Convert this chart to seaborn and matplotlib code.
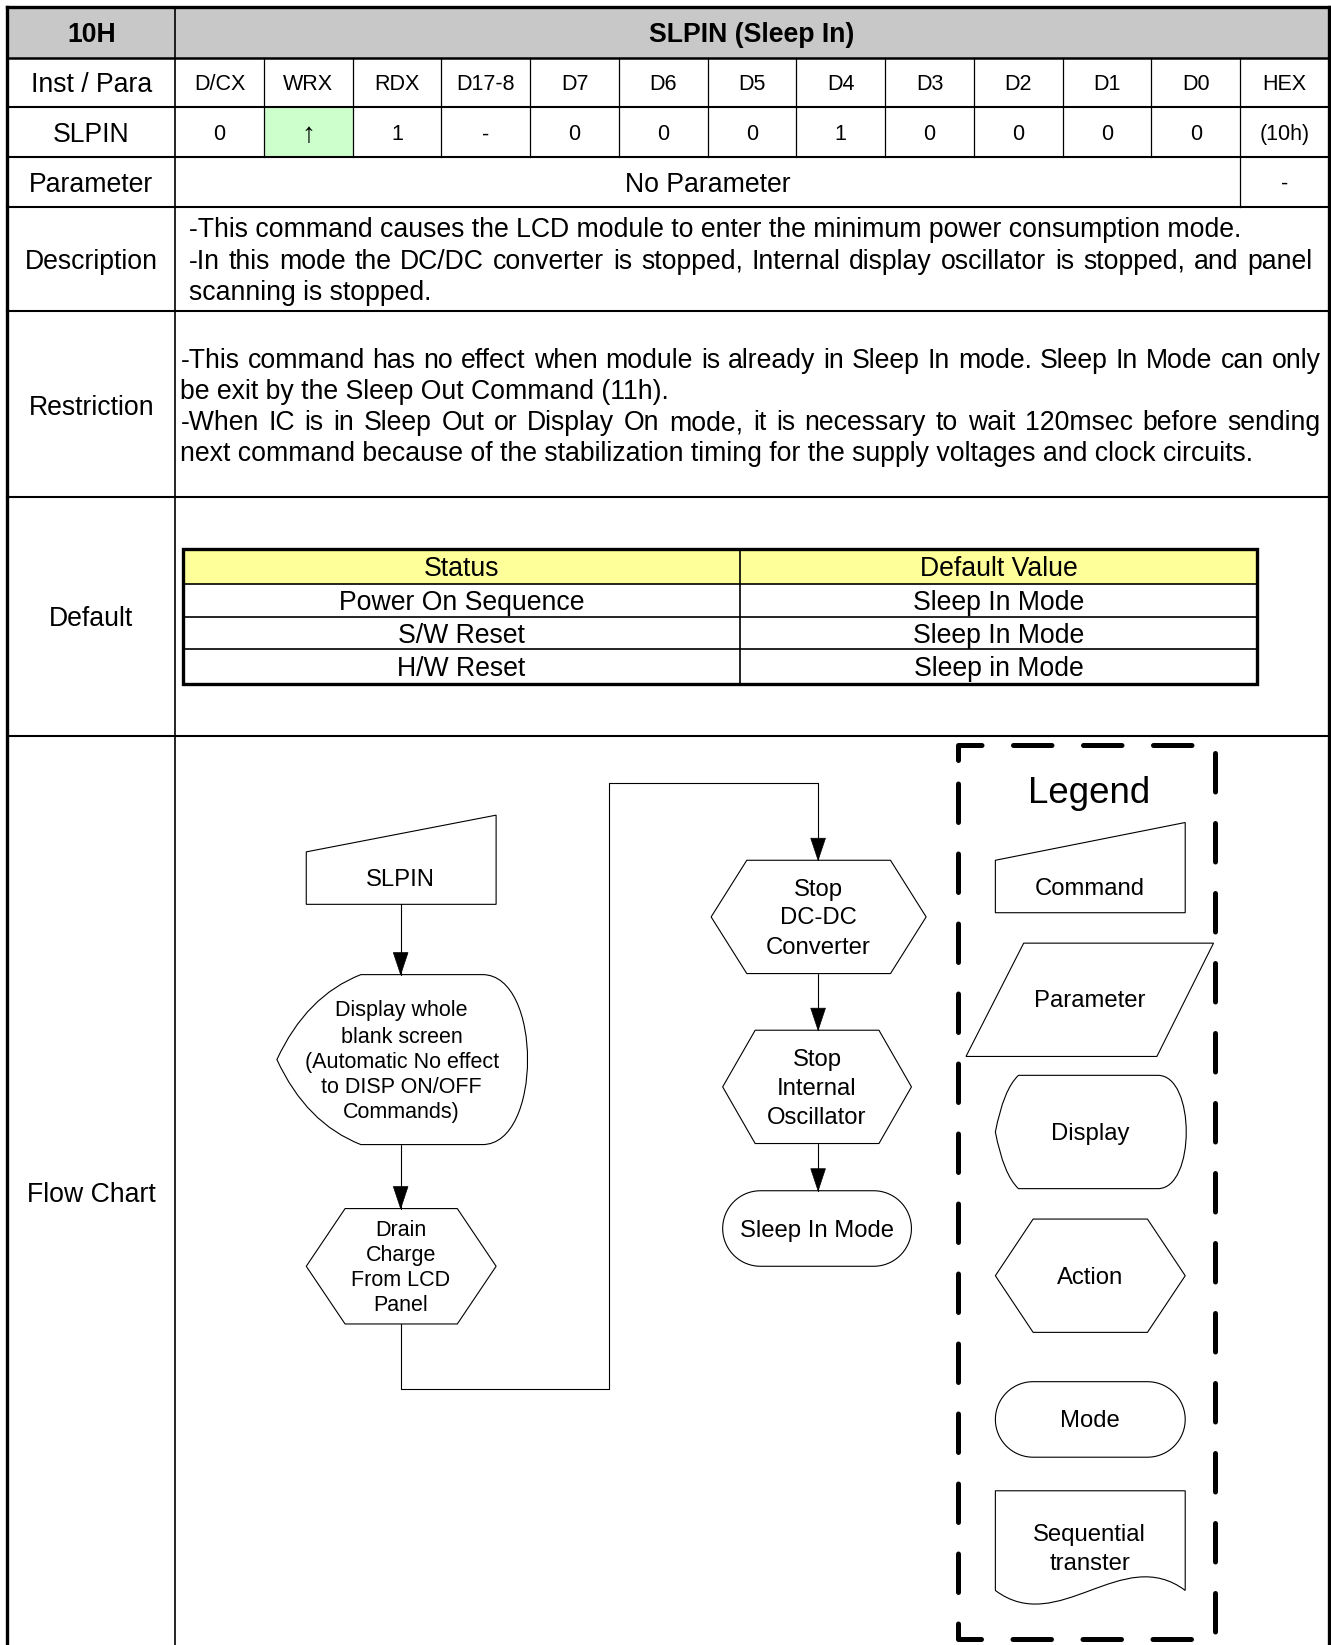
import matplotlib
matplotlib.use('Agg')
import matplotlib.pyplot as plt
from matplotlib.patches import Polygon, PathPatch, Rectangle
from matplotlib.path import Path
import numpy as np
import seaborn as sns

sns.set_theme(style='white')
plt.rcParams['font.family'] = ['Liberation Sans', 'DejaVu Sans']

# layout units: the reference as shown (1269 x 1568), drawn onto a 1331 x 1645 canvas
W, H = 1269, 1568

CODE = '10H'
TITLE = 'SLPIN (Sleep In)'
ROW_LABELS = ['Inst / Para', 'SLPIN', 'Parameter', 'Description',
              'Restriction', 'Default', 'Flow Chart']
BIT_NAMES = ['D/CX', 'WRX', 'RDX', 'D17-8', 'D7', 'D6', 'D5', 'D4',
             'D3', 'D2', 'D1', 'D0', 'HEX']
BIT_VALUES = ['0', '\u2191', '1', '-', '0', '0', '0', '1', '0', '0', '0', '0', '(10h)']
PARAMETER = 'No Parameter'
PARAMETER_HEX = '-'
DESCRIPTION = [
    ('-This command causes the LCD module to enter the minimum power consumption mode.', False),
    ('-In this mode the DC/DC converter is stopped, Internal display oscillator is stopped, and panel', True),
    ('scanning is stopped.', False),
]
RESTRICTION = [
    ('-This command has no effect when module is already in Sleep In mode. Sleep In Mode can only', True),
    ('be exit by the Sleep Out Command (11h).', False),
    ('-When IC is in Sleep Out or Display On mode, it is necessary to wait 120msec before sending', True),
    ('next command because of the stabilization timing for the supply voltages and clock circuits.', False),
]
DEFAULT_HEADER = ['Status', 'Default Value']
DEFAULT_STATUS = ['Power On Sequence', 'S/W Reset', 'H/W Reset']
DEFAULT_VALUE = ['Sleep In Mode', 'Sleep In Mode', 'Sleep in Mode']
FLOW_COMMAND = 'SLPIN'
FLOW_DISPLAY = ['Display whole', 'blank screen', '(Automatic No effect',
                'to DISP ON/OFF', 'Commands)']
FLOW_DRAIN = ['Drain', 'Charge', 'From LCD', 'Panel']
FLOW_DCDC = ['Stop', 'DC-DC', 'Converter']
FLOW_OSC = ['Stop', 'Internal', 'Oscillator']
FLOW_MODE = 'Sleep In Mode'
LEGEND_TITLE = 'Legend'
LEGEND_ITEMS = ['Command', 'Parameter', 'Display', 'Action', 'Mode',
                ['Sequential', 'transter']]

fig = plt.figure(figsize=(13.31, 16.45), dpi=100)
ax = fig.add_axes([0, 0, 1, 1])
ax.set_xlim(0, W)
ax.set_ylim(H, 0)
ax.axis('off')

LW_THIN = 0.9
LW_ROW = 1.5
LW_BORDER = 2.4
FS_MAIN = 19.2
FS_BIT = 15.5
FS_FLOW = 17.2
FS_SMALL = 15.5
DY = 2.5


def txt(x, y, s, size, **kw):
    kw.setdefault('ha', 'center')
    return ax.text(x, y + DY, s, fontsize=size, va='center', color='black', **kw)


def hline(y, x0, x1, lw):
    ax.plot([x0, x1], [y, y], color='black', lw=lw, solid_capstyle='projecting')


def vline(x, y0, y1, lw):
    ax.plot([x, x], [y0, y1], color='black', lw=lw, solid_capstyle='projecting')


def justified(x0, x1, y, line, size):
    words = line.split(' ')
    arts = [txt(0, y, w, size, ha='left') for w in words]
    r = fig.canvas.get_renderer()
    inv = ax.transData.inverted()
    widths = []
    for a in arts:
        bb = a.get_window_extent(r)
        xa = inv.transform((bb.x0, 0))[0]
        xb = inv.transform((bb.x1, 0))[0]
        widths.append(xb - xa)
    gap = (x1 - x0 - sum(widths)) / (len(words) - 1)
    x = x0
    for a, w in zip(arts, widths):
        a.set_x(x)
        x += w + gap


def shape(verts, codes=None, lw=0.8):
    if codes is None:
        ax.add_patch(Polygon(verts, closed=True, fill=False, ec='black', lw=lw))
    else:
        ax.add_patch(PathPatch(Path(verts, codes), fill=False, ec='black', lw=lw))


def hexagon(x0, x1, y0, y1, inset):
    ym = (y0 + y1) / 2
    shape([(x0, ym), (x0 + inset, y0), (x1 - inset, y0), (x1, ym),
           (x1 - inset, y1), (x0 + inset, y1)])


def manual_input(x0, x1, ytl, ytr, yb):
    shape([(x0, yb), (x0, ytl), (x1, ytr), (x1, yb)])


def stadium(x0, x1, y0, y1):
    r = (y1 - y0) / 2
    t = np.linspace(-np.pi / 2, np.pi / 2, 40)
    right = [(x1 - r + r * np.cos(a), y0 + r + r * np.sin(a)) for a in t]
    left = [(x0 + r - r * np.cos(a), y0 + r - r * np.sin(a)) for a in t]
    shape(right + left)


def display(x0, x1, y0, y1, li, ri):
    ym = (y0 + y1) / 2
    hh = ym - y0
    k = ri / 0.75
    verts = [(x0 + li, y0), (x1 - ri, y0),
             (x1 - ri + k, y0), (x1 - ri + k, y1), (x1 - ri, y1),
             (x0 + li, y1),
             (x0 + li * 0.35, y1 - hh * 0.25), (x0, ym),
             (x0 + li * 0.35, y0 + hh * 0.25), (x0 + li, y0)]
    codes = [Path.MOVETO, Path.LINETO,
             Path.CURVE4, Path.CURVE4, Path.CURVE4,
             Path.LINETO,
             Path.CURVE3, Path.CURVE3,
             Path.CURVE3, Path.CURVE3]
    shape(verts, codes)


def document(x0, x1, y0, yb):
    w = x1 - x0
    verts = [(x0, yb), (x0, y0), (x1, y0), (x1, yb),
             (x0 + w * 0.67, yb - 45), (x0 + w * 0.33, yb + 45), (x0, yb)]
    codes = [Path.MOVETO, Path.LINETO, Path.LINETO, Path.LINETO,
             Path.CURVE4, Path.CURVE4, Path.CURVE4]
    shape(verts, codes)


def arrow_head(x, y):
    ax.add_patch(Polygon([(x, y), (x - 7, y - 21), (x + 7, y - 21)],
                         closed=True, fc='black', ec='black', lw=0.5))


def flow_line(points, arrow=True):
    xs, ys = zip(*points)
    ax.plot(xs, ys, color='black', lw=0.8)
    if arrow:
        arrow_head(*points[-1])


# ---------------- table frame ----------------
L, R, TOP = 7, 1267, 7
LABEL_X = 167
ROW_Y = [7, 55, 102, 150, 197, 296, 474, 702]

ax.add_patch(Rectangle((L, TOP), R - L, ROW_Y[1] - TOP, fc='#c8c8c8', ec='none'))
col_w = (R - LABEL_X) / len(BIT_NAMES)
wrx = BIT_NAMES.index('WRX')
ax.add_patch(Rectangle((LABEL_X + wrx * col_w, ROW_Y[2]), col_w, ROW_Y[3] - ROW_Y[2],
                       fc='#ccffcc', ec='none'))

for i, y in enumerate(ROW_Y[1:]):
    hline(y, L, R, LW_ROW if i else 1.8)
hline(TOP, L, R, LW_BORDER)
vline(L, TOP, H + 5, LW_BORDER)
vline(R, TOP, H + 5, LW_BORDER)
vline(LABEL_X, TOP, H + 5, LW_THIN + 0.3)
for k in range(1, len(BIT_NAMES)):
    vline(LABEL_X + k * col_w, ROW_Y[1], ROW_Y[3], LW_THIN)
vline(LABEL_X + (len(BIT_NAMES) - 1) * col_w, ROW_Y[3], ROW_Y[4], LW_THIN)

# header
txt((L + LABEL_X) / 2, 31, CODE, FS_MAIN, weight='bold')
txt((LABEL_X + R) / 2, 31, TITLE, FS_MAIN, weight='bold')

# row labels
label_y = [78.5, 126, 173.5, 247, 386, 588, 1137]
for lab, y in zip(ROW_LABELS, label_y):
    txt((L + LABEL_X) / 2, y, lab, FS_MAIN)

for k, (name, val) in enumerate(zip(BIT_NAMES, BIT_VALUES)):
    cx = LABEL_X + (k + 0.5) * col_w
    txt(cx, 78.5, name, FS_BIT)
    txt(cx, 126, val, FS_BIT * 1.3 if val == '\u2191' else FS_BIT)

txt((LABEL_X + LABEL_X + (len(BIT_NAMES) - 1) * col_w) / 2, 173.5, PARAMETER, FS_MAIN)
txt(R - col_w / 2, 173.5, PARAMETER_HEX, FS_BIT)

# description / restriction
for (line, just), y in zip(DESCRIPTION, [217, 247, 277]):
    if just:
        justified(180, 1251, y, line, FS_MAIN)
    else:
        txt(180, y, line, FS_MAIN, ha='left')
for (line, just), y in zip(RESTRICTION, [342, 371, 401, 430]):
    if just:
        justified(172, 1259, y, line, FS_MAIN)
    else:
        txt(172, y, line, FS_MAIN, ha='left')

# default table
DL, DR, DT, DB, DM = 174, 1198, 523, 652, 706
DROWS = [523, 557, 588, 619, 652]
ax.add_patch(Rectangle((DL, DROWS[0]), DR - DL, DROWS[1] - DROWS[0], fc='#ffff99', ec='none'))
for y in DROWS[1:-1]:
    hline(y, DL, DR, LW_THIN + 0.3)
vline(DM, DT, DB, LW_THIN + 0.3)
ax.add_patch(Rectangle((DL, DT), DR - DL, DB - DT, fill=False, ec='black', lw=LW_BORDER))
cells = [DEFAULT_HEADER] + [[s, v] for s, v in zip(DEFAULT_STATUS, DEFAULT_VALUE)]
for i, (s, v) in enumerate(cells):
    yc = (DROWS[i] + DROWS[i + 1]) / 2
    txt((DL + DM) / 2, yc, s, FS_MAIN)
    txt((DM + DR) / 2, yc, v, FS_MAIN)

# ---------------- flow chart ----------------
manual_input(292, 473, 812, 777, 862)
txt(382, 836, FLOW_COMMAND, FS_FLOW)
flow_line([(382, 862), (382, 929)])

display(264, 503, 929, 1091, 80, 43)
for s, y in zip(FLOW_DISPLAY, [961, 986, 1010, 1034, 1058]):
    txt(383, y, s, FS_SMALL)
flow_line([(382, 1091), (382, 1152)])

hexagon(292, 473, 1152, 1262, 37)
for s, y in zip(FLOW_DRAIN, [1170, 1194, 1218, 1242]):
    txt(382, y, s, FS_SMALL)
flow_line([(382, 1262), (382, 1324), (581, 1324), (581, 746), (780, 746), (780, 820)])

hexagon(678, 883, 820, 928, 34)
for s, y in zip(FLOW_DCDC, [846, 873, 901]):
    txt(780, y, s, FS_FLOW)
flow_line([(780, 928), (780, 982)])

hexagon(689, 869, 982, 1090, 31)
for s, y in zip(FLOW_OSC, [1008, 1036, 1063]):
    txt(779, y, s, FS_FLOW)
flow_line([(780, 1090), (780, 1135)])

stadium(689, 869, 1135, 1207)
txt(779, 1171, FLOW_MODE, FS_FLOW)

# ---------------- legend ----------------
BX0, BX1, BY0, BY1 = 913, 1158, 710, 1562
ax.plot([BX0, BX0, BX1, BX1, BX0, BX0], [BY0 + 14, BY0, BY0, BY1, BY1, BY0 + 14],
        color='black', lw=3.6, linestyle=(0, (7.7, 6.3)),
        dash_capstyle='round', solid_joinstyle='miter')
txt(1038, 754, LEGEND_TITLE, 26.5)

manual_input(949, 1130, 820, 784, 870)
txt(1039, 845, LEGEND_ITEMS[0], FS_FLOW)
shape([(976, 899), (1157, 899), (1103, 1007), (921, 1007)])
txt(1039, 952, LEGEND_ITEMS[1], FS_FLOW)
display(949, 1131, 1025, 1133, 22, 27)
txt(1039, 1078, LEGEND_ITEMS[2], FS_FLOW)
hexagon(949, 1130, 1162, 1270, 36)
txt(1039, 1216, LEGEND_ITEMS[3], FS_FLOW)
stadium(949, 1130, 1317, 1389)
txt(1039, 1352, LEGEND_ITEMS[4], FS_FLOW)
document(949, 1130, 1421, 1516)
for s, y in zip(LEGEND_ITEMS[5], [1461, 1488]):
    txt(1039, y, s, FS_FLOW)

fig.savefig('out.png', dpi=100)
